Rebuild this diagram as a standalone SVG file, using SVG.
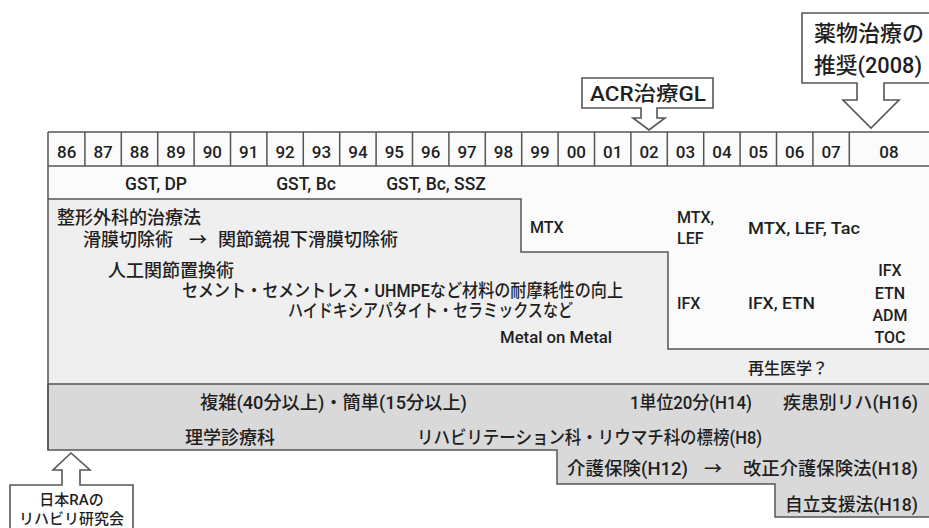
<svg xmlns="http://www.w3.org/2000/svg" width="929" height="528" viewBox="0 0 929 528">
<style>
text{font-family:Roboto,"Noto Sans CJK JP",sans-serif;fill:#1f1f1f;font-weight:500}
.yr{font-size:17px;text-anchor:middle}
.lat{font-size:16px}
.gst{font-size:17.5px;text-anchor:middle}
.jp{font-size:18px}
.ln{stroke:#555;stroke-width:1.5;fill:none}
.call{fill:#ffffff;stroke:#555;stroke-width:1.6;stroke-linejoin:miter}
</style>
<rect x="0" y="0" width="929" height="528" fill="#ffffff"/>
<g id="background-regions">
<rect x="48" y="132" width="885" height="320" fill="#fbfbfb"/>
<path id="surgery-region" d="M48,199 H521 V252 H668 V349 H933 V384 H48 Z" fill="#efefef"/>
<path class="ln" d="M48,199 H521 V252 H668 V349 H933"/>
<path id="rehab-region" d="M48,384 H933 V517 H775 V484 H557 V450 H48 Z" fill="#d9d9d9" stroke="#555" stroke-width="1.5"/>
</g>
<g id="year-row">
<path class="ln" d="M48,132 H933 M48,166 H933 M48,132 V450"/>
<path class="ln" d="M84.9,132V166 M121.3,132V166 M157.7,132V166 M194.1,132V166 M230.5,132V166 M266.9,132V166 M303.3,132V166 M339.7,132V166 M376.1,132V166 M412.5,132V166 M448.9,132V166 M485.3,132V166 M521.7,132V166 M558.1,132V166 M594.5,132V166 M630.9,132V166 M667.3,132V166 M703.7,132V166 M740.1,132V166 M776.5,132V166 M812.9,132V166 M849.3,132V166"/>
<text class="yr" x="66.7" y="157.5">86</text>
<text class="yr" x="103.1" y="157.5">87</text>
<text class="yr" x="139.5" y="157.5">88</text>
<text class="yr" x="175.9" y="157.5">89</text>
<text class="yr" x="212.3" y="157.5">90</text>
<text class="yr" x="248.7" y="157.5">91</text>
<text class="yr" x="285.1" y="157.5">92</text>
<text class="yr" x="321.5" y="157.5">93</text>
<text class="yr" x="357.9" y="157.5">94</text>
<text class="yr" x="394.3" y="157.5">95</text>
<text class="yr" x="430.7" y="157.5">96</text>
<text class="yr" x="467.1" y="157.5">97</text>
<text class="yr" x="503.5" y="157.5">98</text>
<text class="yr" x="539.9" y="157.5">99</text>
<text class="yr" x="576.3" y="157.5">00</text>
<text class="yr" x="612.7" y="157.5">01</text>
<text class="yr" x="649.1" y="157.5">02</text>
<text class="yr" x="685.5" y="157.5">03</text>
<text class="yr" x="721.9" y="157.5">04</text>
<text class="yr" x="758.3" y="157.5">05</text>
<text class="yr" x="794.7" y="157.5">06</text>
<text class="yr" x="831.1" y="157.5">07</text>
<text class="yr" x="889" y="157.5">08</text>
</g>
<g id="gold-row">
<text class="gst" x="156" y="189.5">GST, DP</text>
<text class="gst" x="306" y="189.5">GST, Bc</text>
<text class="gst" x="436" y="189.5">GST, Bc, SSZ</text>
</g>
<g id="surgery">
<text class="jp" x="57" y="224">整形外科的治療法</text>
<text class="jp" x="83" y="246">滑膜切除術</text>
<text class="jp" x="198" y="246" text-anchor="middle">→</text>
<text class="jp" x="218" y="246">関節鏡視下滑膜切除術</text>
<text class="jp" x="108" y="277">人工関節置換術</text>
<text class="jp" x="182" y="296.5" textLength="441" lengthAdjust="spacingAndGlyphs">セメント・セメントレス・UHMPEなど材料の耐摩耗性の向上</text>
<text class="jp" x="288" y="316.5" textLength="285" lengthAdjust="spacingAndGlyphs">ハイドキシアパタイト・セラミックスなど</text>
<text x="500" y="343" font-size="17" textLength="112" lengthAdjust="spacingAndGlyphs">Metal on Metal</text>
</g>
<g id="drugs">
<text class="lat" x="530" y="233">MTX</text>
<text class="lat" x="677" y="222.5">MTX,</text>
<text class="lat" x="677" y="244">LEF</text>
<text class="lat" x="748" y="234" textLength="112" lengthAdjust="spacingAndGlyphs">MTX, LEF, Tac</text>
<text class="lat" x="677" y="309">IFX</text>
<text class="lat" x="748" y="309" textLength="67" lengthAdjust="spacingAndGlyphs">IFX, ETN</text>
<text class="lat" x="890" y="276" text-anchor="middle">IFX</text>
<text class="lat" x="890" y="299" text-anchor="middle">ETN</text>
<text class="lat" x="890" y="321" text-anchor="middle">ADM</text>
<text class="lat" x="890" y="343" text-anchor="middle">TOC</text>
<text x="748" y="373.5" font-size="16">再生医学？</text>
</g>
<g id="rehab">
<text class="jp" x="200" y="408.5" textLength="267" lengthAdjust="spacingAndGlyphs">複雑(40分以上)・簡単(15分以上)</text>
<text class="jp" x="630" y="408.5" textLength="122" lengthAdjust="spacingAndGlyphs">1単位20分(H14)</text>
<text class="jp" x="783" y="408.5" textLength="135" lengthAdjust="spacingAndGlyphs">疾患別リハ(H16)</text>
<text class="jp" x="185" y="443.5">理学診療科</text>
<text class="jp" x="417" y="443.5" textLength="345" lengthAdjust="spacingAndGlyphs">リハビリテーション科・リウマチ科の標榜(H8)</text>
<text class="jp" x="567" y="474.5" textLength="121" lengthAdjust="spacingAndGlyphs">介護保険(H12)</text>
<text class="jp" x="713" y="474.5" text-anchor="middle">→</text>
<text class="jp" x="743" y="474.5" textLength="175" lengthAdjust="spacingAndGlyphs">改正介護保険法(H18)</text>
<text class="jp" x="785" y="511" textLength="133" lengthAdjust="spacingAndGlyphs">自立支援法(H18)</text>
</g>
<g id="callout-acr">
<path class="call" d="M582,78 H713 V108 H657 V118 H665 L649,130 L633,118 H641 V108 H582 Z"/>
<text x="590" y="100.5" font-size="20" textLength="116" lengthAdjust="spacingAndGlyphs">ACR治療GL</text>
</g>
<g id="callout-drug">
<path class="call" d="M802,13 H935 V83 H884 V100 H899 L871,128 L843,100 H857 V83 H802 Z"/>
<text x="814" y="41" font-size="22">薬物治療の</text>
<text x="814" y="73" font-size="22" textLength="108" lengthAdjust="spacingAndGlyphs">推奨(2008)</text>
</g>
<g id="callout-ra">
<path class="call" d="M10,532 V485 H62 V470 H53 L71,453 L90,470 H80 V485 H133 V532"/>
<text x="71.5" y="505" font-size="15" text-anchor="middle">日本RAの</text>
<text x="71.5" y="523.5" font-size="15" text-anchor="middle">リハビリ研究会</text>
</g>
<g id="connectors"></g>
</svg>
